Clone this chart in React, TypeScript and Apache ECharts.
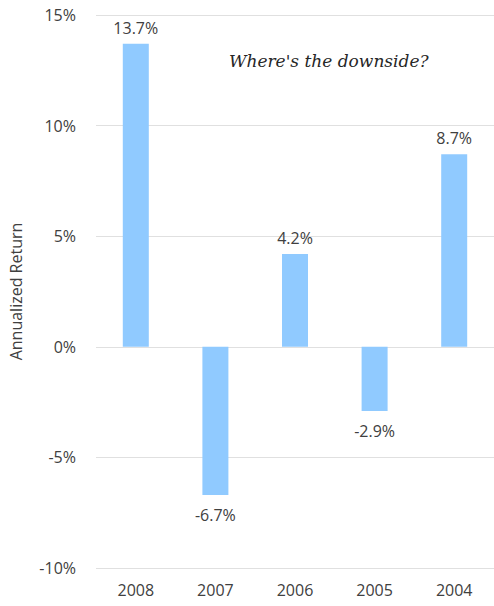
import React, { useEffect, useRef } from "react";
import * as echarts from "echarts";

const categories = ["2008", "2007", "2006", "2005", "2004"];
const returns = [13.7, -6.7, 4.2, -2.9, 8.7];
const yTicks = { min: -10, max: 15, interval: 5 };
const titleText = "Where's the downside?";
const axisName = "Annualized Return";

export default function App() {
  const ref = useRef<HTMLDivElement>(null);
  useEffect(() => {
    const chart = echarts.init(ref.current!, null, { renderer: "svg" });
    const font = "'Open Sans', 'Noto Sans', sans-serif";
    chart.setOption({
      animation: false,
      textStyle: { fontFamily: font },
      grid: { left: 95, top: 15, width: 402, height: 553, containLabel: false },
      graphic: [
        {
          type: "text",
          left: 229,
          top: 52,
          style: {
            text: titleText,
            font: "italic 17px 'DejaVu Serif', serif",
            fill: "#262626",
          },
        },
      ],
      xAxis: {
        type: "category",
        data: categories,
        axisLine: { show: false },
        axisTick: { show: false },
        axisLabel: { color: "#404040", fontSize: 16, margin: 14, fontFamily: font },
      },
      yAxis: {
        type: "value",
        min: yTicks.min,
        max: yTicks.max,
        interval: yTicks.interval,
        name: axisName,
        nameLocation: "middle",
        nameGap: 72,
        nameTextStyle: { color: "#404040", fontSize: 16, fontFamily: font },
        axisLine: { show: false },
        axisTick: { show: false },
        axisLabel: {
          color: "#404040",
          fontSize: 16,
          margin: 20,
          fontFamily: font,
          formatter: (v: number) => `${v}%`,
        },
        splitLine: { lineStyle: { color: "#e0e0e0", width: 1 } },
      },
      series: [
        {
          type: "bar",
          data: returns.map((v) => ({
            value: v,
            label: {
              show: true,
              position: v >= 0 ? "top" : "bottom",
              distance: v >= 0 ? 8 : 12,
              color: "#404040",
              fontSize: 16,
              fontFamily: font,
              formatter: (p: any) => `${p.value.toFixed(1)}%`,
            },
          })),
          barWidth: 26,
          itemStyle: { color: "#90CAFF" },
        },
      ],
    });
    return () => chart.dispose();
  }, []);
  return (
    <div
      ref={ref}
      style={{ position: "absolute", left: 0, top: 0, width: 494, height: 606 }}
    />
  );
}
